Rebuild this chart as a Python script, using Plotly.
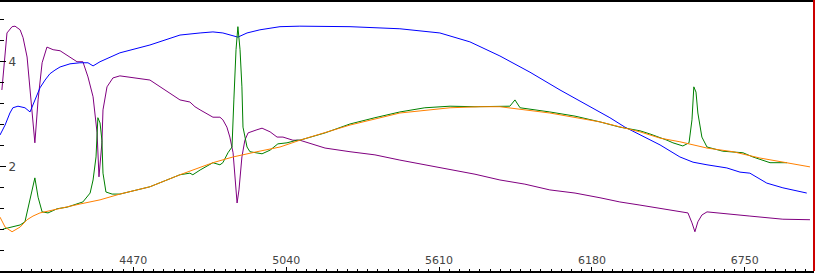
import plotly.graph_objects as go

# Blue series
blue_x = [3973, 3992, 4010, 4021, 4040, 4066, 4085, 4103, 4122, 4141, 4159, 4178, 4197, 4234, 4271, 4301,
          4320, 4346, 4383, 4420, 4532, 4644, 4719, 4767, 4804, 4842, 4860, 4894, 4942, 5017, 5091, 5278,
          5464, 5613, 5725, 5837, 5949, 6061, 6173, 6247, 6303, 6359, 6434, 6508, 6557, 6609, 6683, 6732,
          6769, 6832, 6892, 6981]
blue_y = [2.60, 2.79, 3.02, 3.12, 3.15, 3.12, 3.04, 3.27, 3.50, 3.65, 3.77, 3.84, 3.90, 3.96, 3.98, 3.98,
          3.92, 4.00, 4.09, 4.17, 4.32, 4.51, 4.55, 4.57, 4.55, 4.49, 4.47, 4.55, 4.61, 4.67, 4.68, 4.67,
          4.63, 4.55, 4.38, 4.11, 3.80, 3.46, 3.14, 2.93, 2.75, 2.60, 2.41, 2.18, 2.08, 2.03, 1.97, 1.89,
          1.87, 1.68, 1.59, 1.49]

# Purple series
purple_x = [3980, 3999, 4018, 4029, 4048, 4059, 4074, 4085, 4096, 4103, 4115, 4130, 4148, 4171, 4197, 4223,
            4260, 4282, 4301, 4320, 4335, 4342, 4353, 4357, 4372, 4394, 4420, 4532, 4644, 4681, 4700, 4719,
            4767, 4793, 4804, 4819, 4830, 4842, 4849, 4857, 4864, 4875, 4886, 4898, 4931, 4950, 4980, 5006,
            5028, 5065, 5091, 5185, 5278, 5371, 5464, 5557, 5651, 5744, 5837, 5930, 6023, 6117, 6210, 6284,
            6359, 6434, 6508, 6538, 6553, 6564, 6575, 6590, 6609, 6657, 6769, 6892, 6993]
purple_y = [3.46, 4.55, 4.67, 4.68, 4.61, 4.46, 4.09, 3.52, 2.94, 2.45, 3.27, 3.98, 4.28, 4.23, 4.21, 4.13,
            4.00, 4.00, 3.71, 3.33, 2.64, 1.80, 2.45, 3.08, 3.52, 3.69, 3.73, 3.65, 3.27, 3.23, 3.14, 3.08,
            2.94, 2.94, 2.89, 2.75, 2.56, 2.26, 1.80, 1.30, 1.55, 2.18, 2.50, 2.64, 2.70, 2.73, 2.66, 2.56,
            2.56, 2.50, 2.50, 2.35, 2.28, 2.22, 2.12, 2.03, 1.93, 1.85, 1.74, 1.66, 1.55, 1.49, 1.40, 1.32,
            1.26, 1.20, 1.13, 1.11, 0.92, 0.75, 0.94, 1.07, 1.13, 1.11, 1.05, 0.99, 0.98]

# Green series
green_x = [3984, 3999, 4048, 4066, 4085, 4103, 4115, 4130, 4152, 4186, 4223, 4260, 4282, 4309, 4320, 4331,
           4338, 4346, 4353, 4357, 4368, 4391, 4420, 4532, 4644, 4681, 4692, 4719, 4767, 4793, 4804, 4823,
           4838, 4845, 4853, 4860, 4868, 4875, 4879, 4894, 4905, 4950, 4980, 5009, 5043, 5080, 5091, 5185,
           5278, 5371, 5464, 5557, 5651, 5744, 5837, 5874, 5893, 5912, 6023, 6117, 6210, 6284, 6359, 6396,
           6460, 6482, 6519, 6542, 6553, 6560, 6568, 6575, 6590, 6609, 6668, 6743, 6780, 6844, 6907]
green_y = [0.80, 0.82, 0.88, 0.94, 1.36, 1.78, 1.41, 1.13, 1.11, 1.19, 1.22, 1.28, 1.32, 1.49, 1.74, 2.18,
           2.93, 2.83, 2.50, 1.87, 1.51, 1.47, 1.47, 1.61, 1.84, 1.87, 1.84, 1.93, 2.07, 2.03, 2.07, 2.26,
           2.37, 3.27, 4.23, 4.67, 4.23, 3.52, 2.75, 2.37, 2.28, 2.24, 2.31, 2.43, 2.45, 2.50, 2.50, 2.64,
           2.81, 2.93, 3.04, 3.12, 3.15, 3.14, 3.15, 3.15, 3.27, 3.12, 3.04, 2.96, 2.85, 2.75, 2.68, 2.62,
           2.50, 2.45, 2.39, 2.45, 2.89, 3.52, 3.42, 3.02, 2.56, 2.37, 2.29, 2.26, 2.18, 2.07, 2.07]

# Orange series
orange_x = [3973, 3992, 4018, 4048, 4074, 4096, 4122, 4197, 4271, 4346, 4420, 4532, 4644, 4767, 4842, 4931,
            5017, 5091, 5278, 5464, 5651, 5762, 5837, 6023, 6210, 6359, 6434, 6508, 6609, 6706, 6806, 6993]
orange_y = [1.03, 0.84, 0.75, 0.84, 0.98, 1.05, 1.11, 1.20, 1.28, 1.36, 1.47, 1.61, 1.84, 2.07, 2.18, 2.28,
            2.37, 2.50, 2.79, 3.02, 3.12, 3.14, 3.14, 3.02, 2.85, 2.66, 2.54, 2.47, 2.35, 2.28, 2.16, 1.99]

x_ticks = [4470, 5040, 5610, 6180, 6750]
y_ticks = [2, 4]

fig = go.Figure()
fig.add_trace(go.Scatter(x=purple_x, y=purple_y, mode="lines", line=dict(color="#800080", width=1)))
fig.add_trace(go.Scatter(x=blue_x, y=blue_y, mode="lines", line=dict(color="#0000ff", width=1)))
fig.add_trace(go.Scatter(x=green_x, y=green_y, mode="lines", line=dict(color="#008000", width=1)))
fig.add_trace(go.Scatter(x=orange_x, y=orange_y, mode="lines", line=dict(color="#ff8000", width=1)))

fig.update_layout(
    width=816, height=273,
    margin=dict(l=0, r=2, t=0, b=2),
    paper_bgcolor="white", plot_bgcolor="white",
    showlegend=False,
    font=dict(family="DejaVu Sans", size=11, color="#222222"),
    xaxis=dict(
        range=[3973, 7008], showgrid=False, zeroline=False,
        showline=True, linecolor="black", linewidth=2,
        tickmode="array", tickvals=x_ticks, ticktext=[str(v) for v in x_ticks],
        ticks="inside", ticklen=4, tickcolor="black", tickwidth=1,
        ticklabelposition="inside",
        minor=dict(tick0=4470, dtick=38, ticks="inside", ticklen=2, tickcolor="black", tickwidth=1),
    ),
    yaxis=dict(
        range=[0, 5.18], showgrid=False, zeroline=False,
        showline=True, linecolor="black", linewidth=4,
        tickmode="array", tickvals=y_ticks, ticktext=[str(v) for v in y_ticks],
        ticks="inside", ticklen=6, tickcolor="black", tickwidth=1,
        ticklabelposition="inside", ticklabelstandoff=2,
        tickfont=dict(size=12),
        minor=dict(tick0=0, dtick=0.4, ticks="inside", ticklen=4, tickcolor="black", tickwidth=1),
    ),
    shapes=[
        dict(type="line", xref="paper", yref="paper", x0=0, x1=1, y0=1, y1=1,
             line=dict(color="black", width=4)),
        dict(type="line", xref="paper", yref="paper", x0=1, x1=1, y0=0, y1=1,
             line=dict(color="#cc0000", width=2)),
    ],
)

fig.write_html("out.html")
